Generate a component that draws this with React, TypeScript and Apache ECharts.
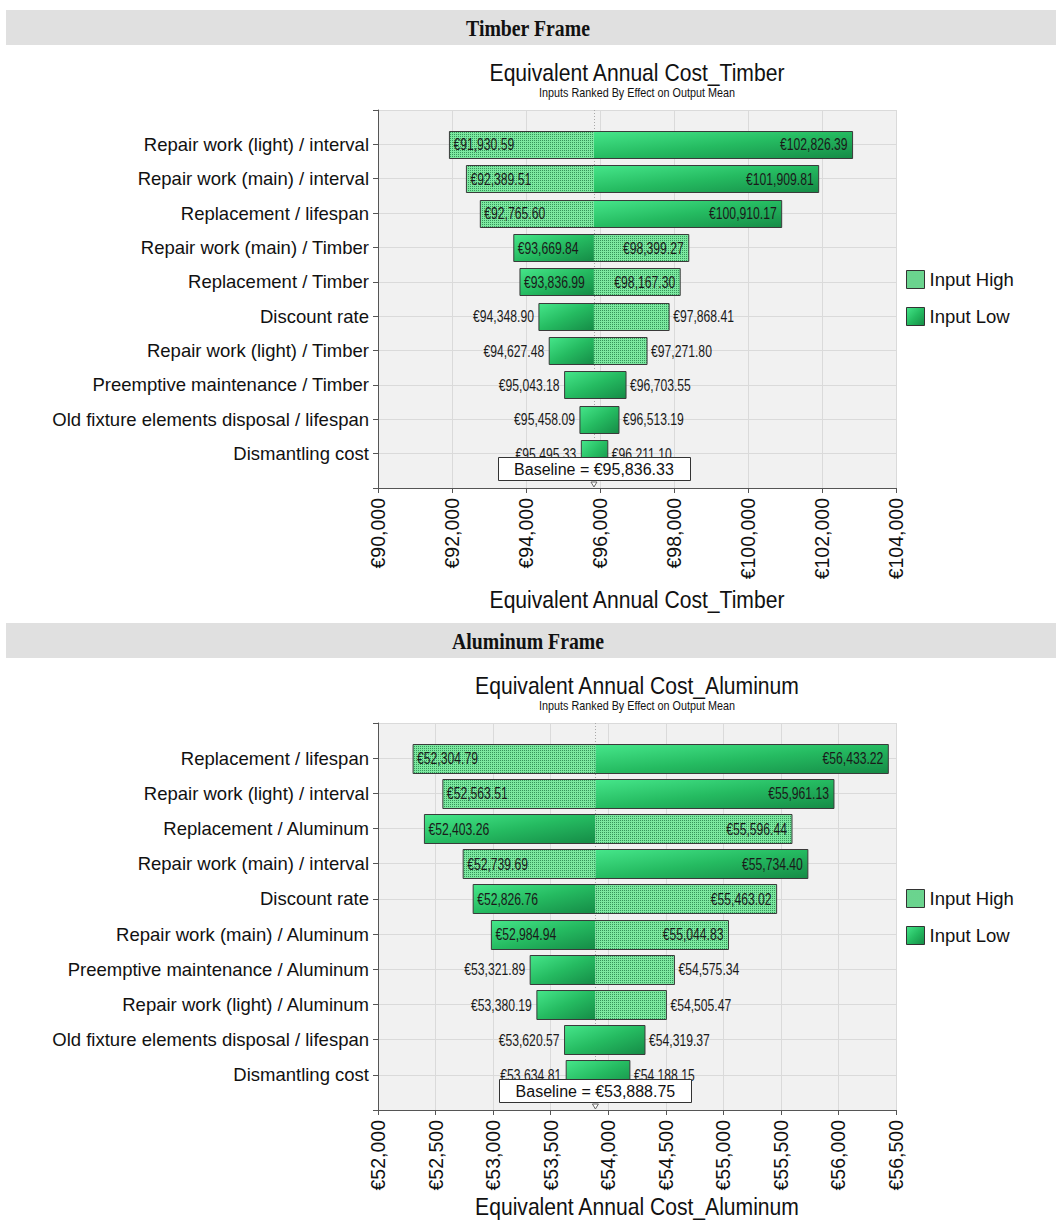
import React, { useEffect, useRef } from "react";
import * as echarts from "echarts";

// ---------- DATA ----------
const timberCategories = [
  "Repair work (light) / interval",
  "Repair work (main) / interval",
  "Replacement / lifespan",
  "Repair work (main) / Timber",
  "Replacement / Timber",
  "Discount rate",
  "Repair work (light) / Timber",
  "Preemptive maintenance / Timber",
  "Old fixture elements disposal / lifespan",
  "Dismantling cost",
];
const timberLeft = [91930.59, 92389.51, 92765.6, 93669.84, 93836.99, 94348.9, 94627.48, 95043.18, 95458.09, 95495.33];
const timberRight = [102826.39, 101909.81, 100910.17, 98399.27, 98167.3, 97868.41, 97271.8, 96703.55, 96513.19, 96211.1];
const timberLeftInput = ["High", "High", "High", "Low", "Low", "Low", "Low", "Low", "Low", "Low"];
const timberRightInput = ["Low", "Low", "Low", "High", "High", "High", "High", "Low", "Low", "Low"];
const timberBaseline = 95836.33;
const timberTicks = { min: 90000, max: 104000, interval: 2000 };

const aluCategories = [
  "Replacement / lifespan",
  "Repair work (light) / interval",
  "Replacement / Aluminum",
  "Repair work (main) / interval",
  "Discount rate",
  "Repair work (main) / Aluminum",
  "Preemptive maintenance / Aluminum",
  "Repair work (light) / Aluminum",
  "Old fixture elements disposal / lifespan",
  "Dismantling cost",
];
const aluLeft = [52304.79, 52563.51, 52403.26, 52739.69, 52826.76, 52984.94, 53321.89, 53380.19, 53620.57, 53634.81];
const aluRight = [56433.22, 55961.13, 55596.44, 55734.4, 55463.02, 55044.83, 54575.34, 54505.47, 54319.37, 54188.15];
const aluLeftInput = ["High", "High", "Low", "High", "Low", "Low", "Low", "Low", "Low", "Low"];
const aluRightInput = ["Low", "Low", "High", "Low", "High", "High", "High", "High", "Low", "Low"];
const aluBaseline = 53888.75;
const aluTicks = { min: 52000, max: 56500, interval: 500 };

const sectionTitles = ["Timber Frame", "Aluminum Frame"];
const chartTitles = ["Equivalent Annual Cost_Timber", "Equivalent Annual Cost_Aluminum"];
const subTitle = "Inputs Ranked By Effect on Output Mean";
const legendNames = ["Input High", "Input Low"];

// ---------- STYLE ----------
const SANS = '"Liberation Sans", Arial, sans-serif';
const SERIF = '"Liberation Serif", "DejaVu Serif", serif';

const money = (v: number) =>
  "€" + v.toLocaleString("en-US", { minimumFractionDigits: 2, maximumFractionDigits: 2 });
const moneyTick = (v: number) => "€" + v.toLocaleString("en-US");

function makeDotted(): any {
  const c = document.createElement("canvas");
  c.width = 2;
  c.height = 2;
  const ctx = c.getContext("2d")!;
  ctx.fillStyle = "#7ce9a0";
  ctx.fillRect(0, 0, 2, 2);
  ctx.fillStyle = "#36955a";
  ctx.fillRect(0, 0, 1, 1);
  return { image: c, repeat: "repeat" };
}
const solid = () =>
  new echarts.graphic.LinearGradient(0, 0, 1, 1, [
    { offset: 0, color: "#46e68a" },
    { offset: 0.5, color: "#25bb61" },
    { offset: 1, color: "#158b46" },
  ]);

export default function App() {
  const ref = useRef<HTMLDivElement>(null);
  useEffect(() => {
    if (!ref.current) return;
    const chart = echarts.init(ref.current, undefined, { renderer: "svg" });
    const dotted = makeDotted();
    const fillFor = (t: string) => (t === "High" ? dotted : solid());

    const grids = [
      { left: 378, top: 110, width: 518, height: 378 },
      { left: 378, top: 723, width: 518, height: 387 },
    ];
    const axisNameY = [600, 1207];
    const charts = [
      { cats: timberCategories, left: timberLeft, right: timberRight, li: timberLeftInput, ri: timberRightInput, base: timberBaseline, ticks: timberTicks, barH: 27 },
      { cats: aluCategories, left: aluLeft, right: aluRight, li: aluLeftInput, ri: aluRightInput, base: aluBaseline, ticks: aluTicks, barH: 29 },
    ];

    const barRender = (c: any) => (params: any, api: any) => {
      const i = params.dataIndex;
      const lo = api.value(0);
      const hi = api.value(1);
      const row = api.value(2);
      const pL = api.coord([lo, row]);
      const pR = api.coord([hi, row]);
      const pB = api.coord([c.base, row]);
      const h = c.barH;
      const y = Math.round(pL[1] - h / 2) + 0.5;
      const children: any[] = [];
      if (c.li[i] === c.ri[i]) {
        children.push({ type: "rect", shape: { x: pL[0], y, width: pR[0] - pL[0], height: h }, style: { fill: fillFor(c.li[i]) } });
      } else {
        children.push({ type: "rect", shape: { x: pL[0], y, width: pB[0] - pL[0], height: h }, style: { fill: fillFor(c.li[i]) } });
        children.push({ type: "rect", shape: { x: pB[0], y, width: pR[0] - pB[0], height: h }, style: { fill: fillFor(c.ri[i]) } });
      }
      children.push({ type: "rect", shape: { x: pL[0], y, width: pR[0] - pL[0], height: h }, style: { fill: "none", stroke: "#3a3a3a", lineWidth: 1 } });
      const inside = pB[0] - pL[0] >= 72 && pR[0] - pB[0] >= 72;
      const ty = pL[1] + 0.5;
      const lblStyle = { fill: "#1a1a1a", fontSize: 16, fontFamily: SANS, verticalAlign: "middle" };
      children.push({
        type: "text",
        x: inside ? pL[0] + 4 : pL[0] - 5,
        y: ty,
        scaleX: 0.76,
        style: { ...lblStyle, text: money(lo), align: inside ? "left" : "right" },
      });
      children.push({
        type: "text",
        x: inside ? pR[0] - 5 : pR[0] + 4,
        y: ty,
        scaleX: 0.76,
        style: { ...lblStyle, text: money(hi), align: inside ? "right" : "left" },
      });
      return { type: "group", children };
    };

    const lineRender = (c: any) => (params: any, api: any) => {
      const top = api.coord([c.base, 0]);
      const bot = api.coord([c.base, c.cats.length + 1]);
      return {
        type: "line",
        shape: { x1: Math.round(top[0]) + 0.5, y1: top[1], x2: Math.round(top[0]) + 0.5, y2: bot[1] },
        style: { stroke: "#a8a8a8", lineWidth: 1, lineDash: [1, 2] },
      };
    };

    const boxRender = (c: any) => (params: any, api: any) => {
      const p = api.coord([c.base, c.cats.length + 1]);
      const w = 192;
      const h = 23;
      const x = Math.round(p[0] - w / 2) + 0.5;
      const y = Math.round(p[1] - 8 - h) + 0.5;
      return {
        type: "group",
        children: [
          { type: "rect", shape: { x, y, width: w, height: h }, style: { fill: "#ffffff", stroke: "#333333", lineWidth: 1 } },
          { type: "text", x: p[0], y: y + h / 2, style: { text: "Baseline = " + money(c.base), fill: "#111", fontSize: 16, fontFamily: SANS, align: "center", verticalAlign: "middle" } },
          { type: "polyline", shape: { points: [[p[0] - 3, p[1] - 6], [p[0] + 3, p[1] - 6], [p[0], p[1] - 1], [p[0] - 3, p[1] - 6]] }, style: { stroke: "#666", fill: "#fff", lineWidth: 1 } },
        ],
      };
    };

    const xAxes = charts.map((c, k) => ({
      type: "value",
      gridIndex: k,
      min: c.ticks.min,
      max: c.ticks.max,
      interval: c.ticks.interval,
      axisLine: { show: true, lineStyle: { color: "#555", width: 1 } },
      axisTick: { show: true, length: 5, lineStyle: { color: "#555" } },
      axisLabel: { rotate: 90, fontSize: 19.5, fontFamily: SANS, color: "#111", margin: 10, formatter: moneyTick },
      splitLine: { show: true, lineStyle: { color: "#dadada", width: 1 } },
    }));
    const yAxes = charts.map((c, k) => ({
      type: "category",
      gridIndex: k,
      data: ["", ...c.cats, ""],
      inverse: true,
      boundaryGap: false,
      axisLine: { show: true, lineStyle: { color: "#555", width: 1 } },
      axisTick: { show: true, length: 5, lineStyle: { color: "#555" } },
      axisLabel: { fontSize: 18.5, fontFamily: SANS, color: "#111", margin: 9, interval: 0 },
      splitLine: { show: true, lineStyle: { color: "#dadada", width: 1 } },
    }));

    const series: any[] = [];
    charts.forEach((c, k) => {
      series.push({
        type: "custom",
        xAxisIndex: k,
        yAxisIndex: k,
        z: 1,
        silent: true,
        renderItem: lineRender(c),
        data: [[c.base, 0]],
        encode: { x: 0, y: 1 },
      });
      series.push({
        type: "custom",
        name: "bars" + k,
        xAxisIndex: k,
        yAxisIndex: k,
        z: 3,
        silent: true,
        renderItem: barRender(c),
        data: c.cats.map((_, i) => [c.left[i], c.right[i], i + 1]),
        encode: { x: [0, 1], y: 2 },
      });
      series.push({
        type: "custom",
        xAxisIndex: k,
        yAxisIndex: k,
        z: 5,
        silent: true,
        renderItem: boxRender(c),
        data: [[c.base, c.cats.length + 1]],
        encode: { x: 0, y: 1 },
      });
    });
    legendNames.forEach((n, j) => {
      series.push({
        type: "custom",
        name: n,
        xAxisIndex: 0,
        yAxisIndex: 0,
        renderItem: () => null,
        data: [],
        itemStyle: { color: j === 0 ? dotted : solid() },
      });
    });

    const legendData = [
      { name: legendNames[0], itemStyle: { color: dotted, borderColor: "#333", borderWidth: 1 } },
      { name: legendNames[1], itemStyle: { color: solid(), borderColor: "#333", borderWidth: 1 } },
    ];
    const legendTops = [270, 889];

    const graphic: any[] = [];
    const bandTops = [10, 623];
    bandTops.forEach((t, k) => {
      graphic.push({ type: "rect", left: 6, top: t, shape: { width: 1050, height: 35 }, style: { fill: "#e0e0e0" }, silent: true });
      graphic.push({
        type: "text",
        x: 528,
        y: t + 18,
        scaleX: 0.86,
        style: { text: sectionTitles[k], fill: "#111", font: "bold 23px " + SERIF, align: "center", verticalAlign: "middle" },
        silent: true,
      });
    });
    grids.forEach((g, k) => {
      const cx = g.left + g.width / 2;
      graphic.push({
        type: "text",
        x: cx,
        y: g.top - 37,
        scaleX: 0.88,
        style: { text: chartTitles[k], fill: "#111", fontSize: 24, fontFamily: SANS, align: "center", verticalAlign: "middle" },
        silent: true,
      });
      graphic.push({
        type: "text",
        x: cx,
        y: g.top - 17,
        scaleX: 0.83,
        style: { text: subTitle, fill: "#111", fontSize: 13, fontFamily: SANS, align: "center", verticalAlign: "middle" },
        silent: true,
      });
      graphic.push({
        type: "text",
        x: cx,
        y: axisNameY[k],
        scaleX: 0.88,
        style: { text: chartTitles[k], fill: "#111", fontSize: 24, fontFamily: SANS, align: "center", verticalAlign: "middle" },
        silent: true,
      });
    });

    chart.setOption({
      animation: false,
      backgroundColor: "#ffffff",
      grid: grids.map((g) => ({ ...g, show: true, backgroundColor: "#f1f1f1", borderWidth: 0, containLabel: false, outerBoundsMode: "none" })),
      xAxis: xAxes,
      yAxis: yAxes,
      legend: legendTops.map((t) => ({
        data: legendData,
        left: 906,
        top: t,
        padding: 0,
        orient: "vertical",
        icon: "rect",
        itemWidth: 18,
        itemHeight: 18,
        itemGap: 18,
        selectedMode: false,
        textStyle: { fontSize: 18.5, fontFamily: SANS, color: "#111" },
      })),
      graphic,
      series,
    });
    return () => chart.dispose();
  }, []);
  return <div ref={ref} style={{ position: "absolute", left: 0, top: 0, width: 1056, height: 1223 }} />;
}
